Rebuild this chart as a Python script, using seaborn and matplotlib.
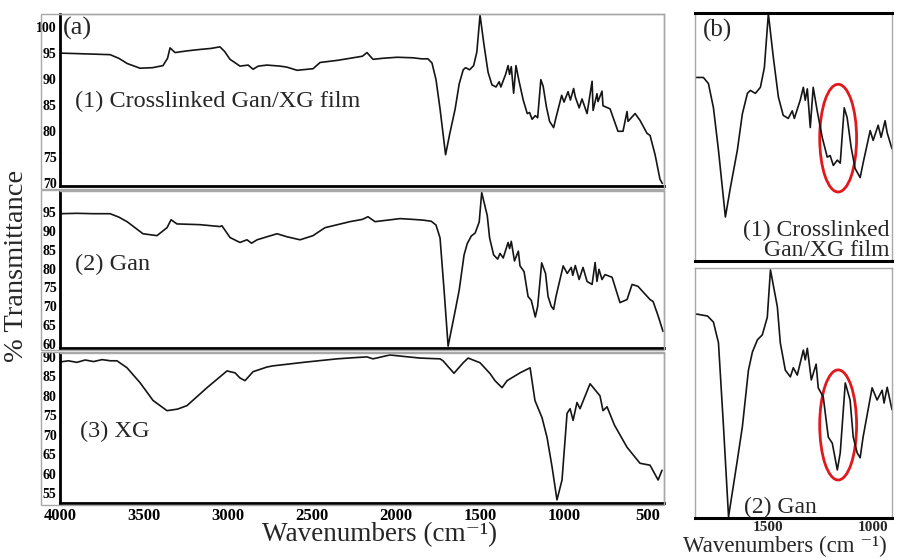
import numpy as np
import pandas as pd
import seaborn as sns
import matplotlib.pyplot as plt
from matplotlib.patches import Ellipse, Rectangle

# FTIR spectra (wavenumber cm-1, % transmittance)
wn_film = [4000, 3900, 3800, 3702, 3650, 3600, 3524, 3450, 3387, 3360, 3345, 3315, 3250,
           3167, 3100, 3048, 3020, 2988, 2960, 2929, 2880, 2851, 2820, 2768, 2690, 2649,
           2589, 2494, 2452, 2350, 2274, 2200, 2173, 2137, 2080, 1994, 1900, 1848, 1810,
           1786, 1762, 1738, 1705, 1681, 1648, 1624, 1600, 1586, 1562, 1538, 1519, 1500,
           1476, 1452, 1429, 1405, 1386, 1376, 1348, 1333, 1324, 1314, 1300, 1286, 1267,
           1243, 1219, 1205, 1190, 1171, 1157, 1138, 1124, 1105, 1086, 1062, 1048, 1014,
           1000, 976, 962, 943, 933, 910, 893, 863, 833, 827, 804, 798, 774, 768, 726,
           679, 649, 625, 619, 577, 548, 506, 488, 458, 429, 415]
t_film = [95.0, 94.9, 94.8, 94.7, 94.0, 93.0, 92.1, 92.2, 92.6, 94.0, 96.0, 95.1, 95.4,
          95.7, 95.9, 96.2, 95.3, 93.8, 93.2, 92.5, 92.7, 91.9, 92.5, 92.7, 92.5, 92.3,
          91.7, 92.0, 93.2, 93.6, 94.0, 94.4, 95.1, 93.8, 94.0, 94.2, 94.1, 93.9, 93.9,
          93.1, 89.9, 84.3, 75.5, 79.4, 84.3, 89.1, 91.8, 92.2, 91.8, 92.6, 95.2, 102.3,
          96.5, 91.3, 88.9, 88.5, 89.5, 88.5, 90.9, 92.6, 90.9, 92.4, 87.3, 92.6, 89.5,
          86.0, 83.4, 83.6, 82.3, 83.0, 82.6, 89.9, 88.6, 84.7, 81.9, 80.7, 82.6, 86.9,
          85.6, 87.6, 86.0, 88.2, 86.6, 84.5, 86.2, 83.4, 89.6, 84.0, 87.2, 85.7, 87.7,
          84.9, 84.3, 80.0, 80.0, 83.8, 81.9, 83.4, 82.1, 79.6, 79.2, 75.5, 70.8, 70.0]

wn_gan = [4000, 3900, 3800, 3702, 3650, 3601, 3506, 3423, 3363, 3339, 3304, 3167, 3048,
          3036, 2988, 2929, 2887, 2860, 2827, 2768, 2708, 2649, 2571, 2494, 2423, 2274,
          2200, 2167, 2125, 2050, 1976, 1900, 1838, 1790, 1762, 1738, 1714, 1690, 1648,
          1624, 1595, 1576, 1552, 1529, 1505, 1490, 1457, 1443, 1419, 1395, 1381, 1362,
          1333, 1324, 1314, 1295, 1272, 1262, 1238, 1214, 1195, 1171, 1157, 1133, 1110,
          1095, 1076, 1062, 1048, 1005, 981, 957, 948, 933, 910, 887, 863, 833, 815, 804,
          792, 774, 756, 714, 667, 625, 595, 560, 488, 470, 440, 411]
t_gan = [94.5, 94.6, 94.5, 94.5, 93.6, 92.4, 89.2, 88.7, 90.8, 92.9, 91.8, 91.6, 91.1,
         91.3, 88.2, 86.9, 87.6, 86.7, 87.6, 88.4, 89.2, 88.4, 87.6, 88.7, 90.8, 92.4,
         93.0, 93.7, 92.4, 92.8, 93.2, 93.0, 92.8, 92.5, 91.5, 88.1, 74.3, 59.5, 68.8,
         74.3, 83.6, 86.6, 88.6, 89.4, 92.3, 100.1, 94.0, 88.1, 83.6, 82.5, 84.0, 82.8,
         86.9, 85.3, 87.2, 82.0, 84.6, 80.7, 79.2, 72.6, 71.6, 67.2, 70.0, 81.5, 78.7,
         72.6, 70.0, 69.2, 72.6, 80.7, 78.7, 80.3, 78.2, 80.8, 77.1, 80.3, 76.6, 75.8,
         81.6, 76.6, 79.8, 77.1, 78.4, 77.7, 71.0, 71.8, 75.8, 75.3, 71.8, 71.3, 67.5, 63.4]

wn_xg = [4000, 3950, 3900, 3850, 3800, 3750, 3700, 3661, 3601, 3524, 3446, 3363, 3300,
         3244, 3125, 3006, 2958, 2929, 2899, 2880, 2851, 2768, 2732, 2571, 2530, 2351,
         2250, 2173, 2137, 2036, 1950, 1857, 1800, 1738, 1720, 1690, 1655, 1600, 1571,
         1500, 1440, 1411, 1369, 1339, 1262, 1202, 1173, 1131, 1101, 1071, 1042, 1012,
         982, 964, 946, 923, 905, 845, 786, 768, 744, 700, 625, 548, 488, 440, 417]
t_xg = [88.7, 89.0, 88.6, 89.2, 88.8, 89.3, 89.0, 89.0, 87.2, 83.4, 78.8, 76.2, 76.6,
        77.5, 82.1, 86.4, 85.9, 84.6, 83.9, 84.8, 86.2, 87.4, 87.7, 88.5, 88.7, 89.5,
        89.8, 90.0, 89.5, 90.5, 90.1, 89.7, 89.6, 89.5, 89.0, 87.5, 85.8, 88.5, 89.7,
        88.5, 85.7, 83.9, 82.1, 83.9, 85.9, 87.2, 78.8, 74.4, 69.3, 61.7, 53.3, 58.4,
        75.5, 76.7, 73.7, 78.3, 76.7, 83.1, 80.0, 76.2, 77.2, 72.5, 66.8, 62.7, 62.2,
        58.4, 60.9]

film = pd.DataFrame({"wn": wn_film, "T": t_film})
gan = pd.DataFrame({"wn": wn_gan, "T": t_gan})
xg = pd.DataFrame({"wn": wn_xg, "T": t_xg})

sns.set_theme(style="white")
plt.rcParams['font.family'] = ['Liberation Serif', 'DejaVu Serif']

W, H = 908, 558
fig = plt.figure(figsize=(W / 100, H / 100), dpi=100)


def fr(x0, top, x1, bottom):
    return [x0 / W, 1 - bottom / H, (x1 - x0) / W, (bottom - top) / H]


GRAY = '#a8a8a8'
LINE = '#151515'

# outer grey frames around the left subplots
for top, bottom in [(14, 189), (190, 350), (352, 505)]:
    fig.add_artist(Rectangle((41 / W, 1 - bottom / H), (664 - 41) / W, (bottom - top) / H,
                             transform=fig.transFigure, fill=False, ec=GRAY, lw=1))

ax1 = fig.add_axes(fr(60, 14, 664, 186))
ax2 = fig.add_axes(fr(60, 191, 664, 348))
ax3 = fig.add_axes(fr(60, 353, 664, 503))
bx1 = fig.add_axes(fr(695, 13, 892, 261))
bx2 = fig.add_axes(fr(695, 268, 892, 518))

panels = [(ax1, film, (69.5, 102.5), np.arange(70, 101, 5)),
          (ax2, gan, (59.0, 100.5), np.arange(60, 96, 5)),
          (ax3, xg, (52.5, 91.0), np.arange(55, 91, 5))]

for ax, df, ylim, yt in panels:
    sns.lineplot(data=df, x="wn", y="T", ax=ax, color=LINE, lw=1.2, estimator=None)
    ax.set_xlim(4000, 405)
    ax.set_ylim(*ylim)
    ax.set_yticks(yt)
    ax.set_yticklabels([str(v) for v in yt], fontsize=10, fontweight='bold')
    ax.set_xticks(np.arange(4000, 499, -500))
    ax.set_xlabel("")
    ax.set_ylabel("")
    ax.tick_params(axis='both', direction='out', length=2, width=1, pad=0.5, colors='black')
    for s in ['top', 'right']:
        ax.spines[s].set_color(GRAY)
        ax.spines[s].set_linewidth(1)
    for s in ['left', 'bottom']:
        ax.spines[s].set_color('black')
        ax.spines[s].set_linewidth(2)

for ax in (ax1, ax2):
    ax.set_xticklabels([])
ax3.set_xticklabels([str(v) for v in np.arange(4000, 499, -500)],
                    fontsize=12, fontweight='bold')
ax3.tick_params(axis='x', pad=1.5)

for bx, df, ylim in [(bx1, film, (69.7, 102.4)), (bx2, gan, (59.3, 100.4))]:
    sns.lineplot(data=df, x="wn", y="T", ax=bx, color=LINE, lw=1.2, estimator=None)
    bx.set_xlim(1850, 910)
    bx.set_ylim(*ylim)
    bx.set_yticks([])
    bx.set_xticks([1500, 1000])
    bx.set_xlabel("")
    bx.set_ylabel("")
    bx.tick_params(axis='x', direction='out', length=2, width=1, pad=0.5)
    for s in ['left', 'right', 'top']:
        bx.spines[s].set_color(GRAY)
        bx.spines[s].set_linewidth(1)
    bx.spines['bottom'].set_color('black')
    bx.spines['bottom'].set_linewidth(2.2)

bx1.spines['top'].set_color('black')
bx1.spines['top'].set_linewidth(2.2)
bx1.set_xticklabels([])
bx2.set_xticklabels(["1500", "1000"], fontsize=11, fontweight='bold')

# red ellipses marking the 1150-1200 cm-1 region
bx1.add_patch(Ellipse((1167, 85.9), 176, 14.2, fill=False, ec='#e0191d', lw=2))
bx2.add_patch(Ellipse((1167, 74.6), 176, 18.1, fill=False, ec='#e0191d', lw=2))

# panel texts
ax1.text(0.004, 0.985, "(a)", transform=ax1.transAxes, fontsize=19, va='top', ha='left')
ax1.text(0.025, 0.49, "(1) Crosslinked Gan/XG film", transform=ax1.transAxes,
         fontsize=17.5, va='center', ha='left')
ax2.text(0.025, 0.535, "(2) Gan", transform=ax2.transAxes, fontsize=17.5,
         va='center', ha='left')
ax3.text(0.033, 0.48, "(3) XG", transform=ax3.transAxes, fontsize=17.5,
         va='center', ha='left')
bx1.text(0.04, 0.975, "(b)", transform=bx1.transAxes, fontsize=18, va='top', ha='left')
bx1.text(0.985, 0.0, "(1) Crosslinked\nGan/XG film", transform=bx1.transAxes,
         fontsize=17, va='bottom', ha='right', multialignment='right', linespacing=0.95)
bx2.text(0.435, 0.0, "(2) Gan", transform=bx2.transAxes, fontsize=17,
         va='bottom', ha='center')

fig.text(17 / W, 1 - 266 / H, "% Transmittance", rotation=90, fontsize=20.5,
         va='center', ha='center')
fig.text(380 / W, 1 - 535 / H, "Wavenumbers (cm\u207b\u00b9)", fontsize=19.5,
         va='center', ha='center')
fig.text(683 / W, 1 - 557.5 / H, "Wavenumbers (cm \u207b\u00b9)", fontsize=16.5,
         va='bottom', ha='left')

fig.savefig("out.png", dpi=100)
